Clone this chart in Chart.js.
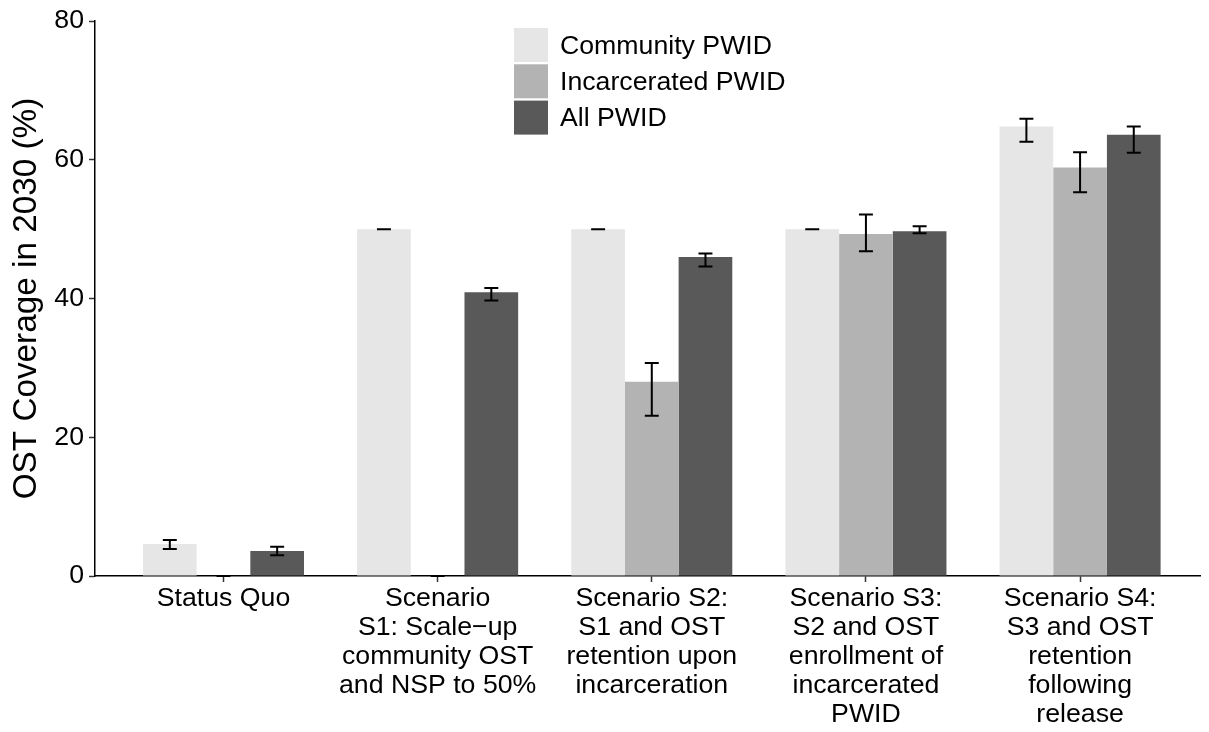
<!DOCTYPE html>
<html>
<head>
<meta charset="utf-8">
<script src="https://cdn.jsdelivr.net/npm/chart.js@4/dist/chart.umd.min.js"></script>
<style>
  html, body { margin: 0; padding: 0; background: #ffffff; }
  #wrap { width: 1209px; height: 732px; position: relative; }
</style>
</head>
<body>
<div id="wrap"><canvas id="c"></canvas></div>
<script>
// ---- data ----
const categories = [
  "Status Quo",
  ["Scenario", "S1: Scale\u2212up", "community OST", "and NSP to 50%"],
  ["Scenario S2:", "S1 and OST", "retention upon", "incarceration"],
  ["Scenario S3:", "S2 and OST", "enrollment of", "incarcerated", "PWID"],
  ["Scenario S4:", "S3 and OST", "retention", "following", "release"]
];
const seriesNames = ["Community PWID", "Incarcerated PWID", "All PWID"];
const communityValues = [4.6, 50.0, 50.0, 50.0, 64.8];
const communityLow    = [3.9, 50.0, 50.0, 50.0, 62.6];
const communityHigh   = [5.2, 50.0, 50.0, 50.0, 65.9];
const incarceratedValues = [0, 0, 28.0, 49.3, 58.9];
const incarceratedLow    = [0, 0, 23.1, 46.8, 55.3];
const incarceratedHigh   = [0, 0, 30.7, 52.1, 61.1];
const allValues = [3.6, 40.9, 46.0, 49.7, 63.6];
const allLow    = [3.0, 39.7, 44.6, 49.4, 61.0];
const allHigh   = [4.2, 41.5, 46.5, 50.4, 64.8];
const yTicks = [0, 20, 40, 60, 80];
const yTitle = "OST Coverage in 2030 (%)";

// ---- styles ----
const colors = ["#E6E6E6", "#B3B3B3", "#595959"];
const FONT = "'Liberation Sans', Arial, Helvetica, sans-serif";

const seriesValues = [communityValues, incarceratedValues, allValues];
const seriesLow = [communityLow, incarceratedLow, allLow];
const seriesHigh = [communityHigh, incarceratedHigh, allHigh];

const datasets = seriesNames.map((name, s) => ({
  label: name,
  data: seriesValues[s].map((v, i) => ({ x: i + 1, y: v })),
  backgroundColor: colors[s],
  borderWidth: 0,
  errLow: seriesLow[s],
  errHigh: seriesHigh[s],
  categoryPercentage: 0.752,
  barPercentage: 1.0
}));

const errorBarPlugin = {
  id: 'errorBars',
  afterDatasetsDraw(chart) {
    const ctx = chart.ctx;
    const yScale = chart.scales.y;
    ctx.save();
    ctx.strokeStyle = '#000';
    ctx.lineWidth = 2;
    chart.data.datasets.forEach((ds, di) => {
      const meta = chart.getDatasetMeta(di);
      meta.data.forEach((bar, j) => {
        const x = bar.x;
        const half = bar.width * 0.13;
        const yT = yScale.getPixelForValue(ds.errHigh[j]);
        const yB = yScale.getPixelForValue(ds.errLow[j]);
        ctx.beginPath();
        ctx.moveTo(x, yT); ctx.lineTo(x, yB);
        ctx.moveTo(x - half, yT); ctx.lineTo(x + half, yT);
        ctx.moveTo(x - half, yB); ctx.lineTo(x + half, yB);
        ctx.stroke();
      });
    });
    ctx.restore();
  }
};

const legendPlugin = {
  id: 'customLegend',
  afterDraw(chart) {
    const ctx = chart.ctx;
    ctx.save();
    const bx = 514, by = 28, size = 34, step = 36.3;
    ctx.font = "26.7px " + FONT;
    ctx.textBaseline = 'middle';
    ctx.textAlign = 'left';
    chart.data.datasets.forEach((ds, i) => {
      const y = by + i * step;
      ctx.fillStyle = ds.backgroundColor;
      ctx.fillRect(bx, y, size, size);
      ctx.fillStyle = '#000';
      ctx.fillText(ds.label, 560, y + size / 2 + 1.5);
    });
    ctx.restore();
  }
};

new Chart(document.getElementById('c'), {
  type: 'bar',
  data: { datasets },
  plugins: [errorBarPlugin, legendPlugin],
  options: {
    responsive: true,
    maintainAspectRatio: false,
    animation: false,
    layout: { padding: { top: 19, right: 9, left: 0, bottom: 0 } },
    plugins: { legend: { display: false }, tooltip: { enabled: false } },
    scales: {
      x: {
        type: 'linear',
        min: 0.4,
        max: 5.56,
        offset: false,
        afterBuildTicks(scale) {
          scale.ticks = categories.map((c, i) => ({ value: i + 1 }));
        },
        afterFit(scale) { scale.height = 156; },
        grid: {
          offset: false,
          drawOnChartArea: false,
          drawTicks: true,
          tickLength: 6,
          tickWidth: 1.5,
          tickColor: '#333'
        },
        border: { display: true, color: '#000', width: 1.5 },
        ticks: {
          autoSkip: false,
          maxRotation: 0,
          minRotation: 0,
          padding: 2,
          color: '#000',
          font: { family: FONT, size: 26.7, lineHeight: 1.09 },
          callback: (v) => categories[Math.round(v) - 1]
        }
      },
      y: {
        min: 0,
        max: 80,
        afterBuildTicks(scale) {
          scale.ticks = yTicks.map(v => ({ value: v }));
        },
        afterFit(scale) { scale.width = 95; },
        grid: {
          drawOnChartArea: false,
          drawTicks: true,
          tickLength: 6,
          tickWidth: 1.5,
          tickColor: '#333'
        },
        border: { display: true, color: '#000', width: 1.5 },
        ticks: {
          padding: 5,
          color: '#000',
          font: { family: FONT, size: 26.7 }
        },
        title: {
          display: true,
          text: yTitle,
          color: '#000',
          font: { family: FONT, size: 33.3, lineHeight: 1.2 },
          padding: { top: 7, bottom: 0 }
        }
      }
    }
  }
});
</script>
</body>
</html>
